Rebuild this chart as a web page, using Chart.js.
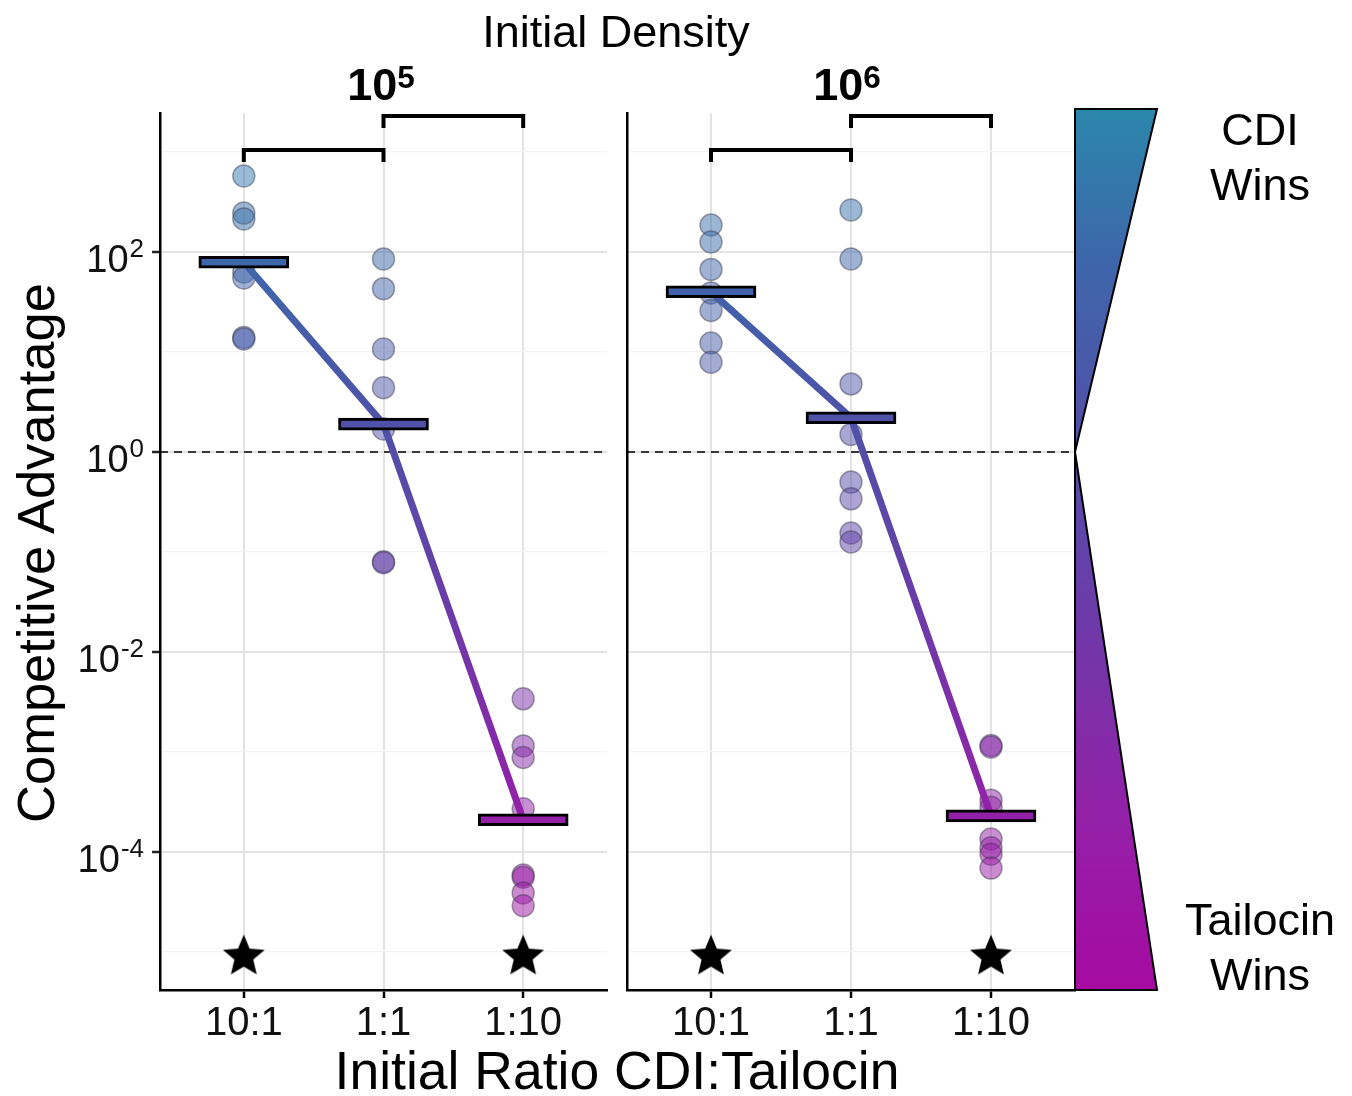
<!DOCTYPE html>
<html>
<head>
<meta charset="utf-8">
<script src="https://cdn.jsdelivr.net/npm/chart.js@4.4.1/dist/chart.umd.min.js"></script>
<style>
  body { margin: 0; background: #fff; width: 1352px; height: 1096px; position: relative; overflow: hidden;
         font-family: "Liberation Sans", Arial, sans-serif; color: #000; }
  canvas { position: absolute; top: 0; }
  .lbl { position: absolute; white-space: nowrap; line-height: 1; text-align: center; }
  .sup { position: relative; font-size: 0.7em; top: -0.38em; }
</style>
</head>
<body>
<canvas id="p5" width="620" height="1096" style="left:0"></canvas>
<canvas id="p6" width="752" height="1096" style="left:600px"></canvas>

<div class="lbl" style="left:416px; width:400px; top:9px; font-size:45px;">Initial Density</div>
<div class="lbl" style="left:281px; width:200px; top:62px; font-size:45px; font-weight:bold;">10<span class="sup">5</span></div>
<div class="lbl" style="left:747px; width:200px; top:62px; font-size:45px; font-weight:bold;">10<span class="sup">6</span></div>
<div class="lbl" style="left:-364px; width:800px; top:527px; height:52px; font-size:52.5px; line-height:52px; transform:rotate(-90deg);">Competitive Advantage</div>
<div class="lbl" style="left:267px; width:700px; top:1044px; font-size:53.5px;">Initial Ratio CDI:Tailocin</div>
<div class="lbl" style="left:1160px; width:200px; top:102px; font-size:45px; line-height:55px;">CDI<br>Wins</div>
<div class="lbl" style="left:1160px; width:200px; top:892px; font-size:45px; line-height:55px;">Tailocin<br>Wins</div>

<script>
// x categories
const ratios = ['10:1', '1:1', '1:10'];

// density 10^5 : competitive advantage per replicate
const d5_r10 = [575, 245, 214, 63, 55, 14, 13.5];
const d5_r1 = [85, 43, 10.7, 4.4, 1.7, 0.08, 0.078];
const d5_r01 = [0.0034, 0.00115, 0.00088, 0.00027, 0.000059, 0.000056, 0.000039, 0.000029];
const d5_means = [79, 1.9, 0.00021];

// density 10^6
const d6_r10 = [186, 126, 67, 39, 26, 12.3, 7.9];
const d6_r1 = [263, 85, 4.8, 1.5, 0.5, 0.34, 0.155, 0.126];
const d6_r01 = [0.00116, 0.00112, 0.00033, 0.00028, 0.000135, 0.00011, 0.000095, 0.000069];
const d6_means = [40, 2.2, 0.00023];

// significance stars (category index) and comparison brackets
const starCats = [1, 3];
const starLevel = 9e-6;
const bracketPairs = [[1, 2], [2, 3]];
const bracketLevels = [1050, 2290];

const yPowers = [-5, -4, -3, -2, -1, 0, 1, 2, 3];
const yLabelPowers = [-4, -2, 0, 2];

// colour ramp along log10(value): blue (CDI wins) -> magenta (tailocin wins)
const colorStops = [[3.4, '#2b86ab'], [1.9, '#3e66aa'], [0.3, '#4f52a8'], [-1.5, '#6a3ca8'], [-3.7, '#9420a8'], [-5.4, '#a60aa0']];

function hexRgb(h) {
    return [parseInt(h.slice(1, 3), 16), parseInt(h.slice(3, 5), 16), parseInt(h.slice(5, 7), 16)];
}

function rampColor(v, alpha) {
    const l = Math.log10(v);
    let c = hexRgb(colorStops[colorStops.length - 1][1]);
    if (l >= colorStops[0][0]) c = hexRgb(colorStops[0][1]);
    for (let i = 0; i < colorStops.length - 1; i++) {
        const [l0, c0] = colorStops[i];
        const [l1, c1] = colorStops[i + 1];
        if (l <= l0 && l >= l1) {
            const t = (l0 - l) / (l0 - l1);
            const a = hexRgb(c0), b = hexRgb(c1);
            c = a.map((x, k) => Math.round(x + (b[k] - x) * t));
        }
    }
    return `rgba(${c[0]},${c[1]},${c[2]},${alpha})`;
}

function verticalRamp(chart, top, bottom) {
    const ys = chart.scales.y;
    const g = chart.ctx.createLinearGradient(0, top, 0, bottom);
    colorStops.forEach(([l, c]) => {
        let p = (ys.getPixelForValue(Math.pow(10, l)) - top) / (bottom - top);
        g.addColorStop(Math.min(1, Math.max(0, p)), c);
    });
    return g;
}

// filled five point star used as point style
function makeStar(R) {
    const c = document.createElement('canvas');
    c.width = c.height = 2 * R + 2;
    const g = c.getContext('2d');
    g.translate(R + 1, R + 1);
    g.beginPath();
    for (let k = 0; k < 10; k++) {
        const r = k % 2 ? R * 0.45 : R;
        const a = -Math.PI / 2 + k * Math.PI / 5;
        g.lineTo(r * Math.cos(a), r * Math.sin(a));
    }
    g.closePath();
    g.fillStyle = '#000';
    g.fill();
    return c;
}
const starImg = makeStar(22);

const isMajor = ctx => ctx.tick && Math.round(Math.log10(ctx.tick.value)) % 2 === 0;

// --- y tick labels with superscript exponents ---
const yLabelPlugin = {
    id: 'yLabels',
    afterDraw(chart) {
        const ys = chart.scales.y, ctx = chart.ctx;
        ctx.save();
        ctx.fillStyle = '#111';
        ctx.textBaseline = 'alphabetic';
        ctx.textAlign = 'left';
        yLabelPowers.forEach(e => {
            const y = ys.getPixelForValue(Math.pow(10, e));
            const ex = String(e);
            ctx.font = '26px "Liberation Sans", Arial';
            const ew = ctx.measureText(ex).width;
            ctx.font = '38px "Liberation Sans", Arial';
            const bw = ctx.measureText('10').width;
            const right = ys.right - 16;
            ctx.fillText('10', right - ew - bw - 1, y + 20);
            ctx.font = '26px "Liberation Sans", Arial';
            ctx.fillText(ex, right - ew, y + 5);
        });
        ctx.restore();
    }
};

// --- gradient triangle legend to the right of the last panel ---
const legendPlugin = {
    id: 'rampLegend',
    afterDraw(chart) {
        const a = chart.chartArea, ys = chart.scales.y, ctx = chart.ctx;
        const x0 = a.right, x1 = a.right + 82;
        const top = a.top - 4, bottom = a.bottom;
        const apex = ys.getPixelForValue(1);
        ctx.save();
        ctx.beginPath();
        ctx.moveTo(x0, top);
        ctx.lineTo(x1, top);
        ctx.lineTo(x0, apex);
        ctx.lineTo(x1, bottom);
        ctx.lineTo(x0, bottom);
        ctx.closePath();
        ctx.fillStyle = verticalRamp(chart, top, bottom);
        ctx.fill();
        ctx.lineWidth = 2;
        ctx.strokeStyle = '#000';
        ctx.lineJoin = 'miter';
        ctx.stroke();
        ctx.restore();
    }
};

function makePanel(id, groups, means, pad, yWidth, showYTicks, plugins) {
    const pts = [];
    groups.forEach((vals, i) => vals.forEach(v => pts.push({ x: i + 1, y: v })));

    const datasets = [
        {
            type: 'line',
            data: [{ x: 0.4, y: 1 }, { x: 3.6, y: 1 }],
            borderColor: '#000', borderWidth: 1.5, borderDash: [8, 6],
            pointRadius: 0, order: 5
        },
        {
            type: 'scatter',
            data: pts,
            pointRadius: 11,
            pointBackgroundColor: ctx => rampColor(ctx.raw.y, 0.5),
            pointBorderColor: 'rgba(60,60,80,0.45)',
            pointBorderWidth: 1.5,
            order: 4
        },
        {
            type: 'line',
            data: means.map((m, i) => ({ x: i + 1, y: m })),
            borderColor: ctx => {
                const a = ctx.chart.chartArea;
                if (!a) return '#4f52a8';
                return verticalRamp(ctx.chart, a.top, a.bottom);
            },
            borderWidth: 7, pointRadius: 0, order: 3
        },
        {
            type: 'bar',
            data: means.map((m, i) => ({ x: i + 1, y: [m / Math.pow(10, 0.06), m * Math.pow(10, 0.06)] })),
            backgroundColor: means.map(m => rampColor(m, 1)),
            borderColor: '#000', borderWidth: 3, borderSkipped: false,
            barThickness: 90, order: 2
        },
        {
            type: 'scatter',
            data: starCats.map(c => ({ x: c, y: starLevel })),
            pointStyle: starImg, pointRadius: 22, order: 0
        }
    ];
    bracketPairs.forEach(([p, q], k) => {
        const lvl = bracketLevels[k];
        const foot = lvl / Math.pow(10, 0.12);
        datasets.push({
            type: 'line',
            data: [{ x: p, y: foot }, { x: p, y: lvl }, { x: q, y: lvl }, { x: q, y: foot }],
            borderColor: '#000', borderWidth: 4, pointRadius: 0,
            borderJoinStyle: 'miter', borderCapStyle: 'butt', clip: false, order: 0
        });
    });

    return new Chart(document.getElementById(id), {
        type: 'scatter',
        data: { datasets },
        options: {
            responsive: false,
            animation: false,
            events: [],
            layout: { padding: pad, autoPadding: false },
            plugins: { legend: { display: false }, tooltip: { enabled: false } },
            scales: {
                x: {
                    type: 'linear', min: 0.4, max: 3.6, offset: false,
                    afterBuildTicks: s => { s.ticks = ratios.map((r, i) => ({ value: i + 1 })); },
                    afterFit: s => { s.height = 106; s.paddingLeft = 0; s.paddingRight = 0; },
                    ticks: {
                        callback: v => ratios[Math.round(v) - 1],
                        font: { size: 40, family: '"Liberation Sans", Arial' },
                        color: '#111', padding: 2, maxRotation: 0, autoSkip: false
                    },
                    grid: { offset: false, color: '#e3e3e3', lineWidth: 2, tickLength: 8, tickColor: '#000', tickWidth: 2.5 },
                    border: { display: true, color: '#000', width: 2.5 }
                },
                y: {
                    type: 'logarithmic',
                    min: Math.pow(10, -5.38), max: Math.pow(10, 3.39),
                    afterBuildTicks: s => { s.ticks = yPowers.map(e => ({ value: Math.pow(10, e) })); },
                    afterFit: s => { s.width = yWidth; s.paddingTop = 0; s.paddingBottom = 0; },
                    ticks: { display: false },
                    grid: {
                        offset: false,
                        color: ctx => isMajor(ctx) ? '#e3e3e3' : '#f3f3f3',
                        lineWidth: ctx => isMajor(ctx) ? 2 : 1.2,
                        drawTicks: showYTicks, tickLength: 8, tickWidth: 2.5,
                        tickColor: ctx => isMajor(ctx) ? '#222' : 'rgba(0,0,0,0)'
                    },
                    border: { display: true, color: '#000', width: 2.5 }
                }
            }
        },
        plugins: plugins
    });
}

makePanel('p5', [d5_r10, d5_r1, d5_r01], d5_means,
    { top: 113, right: 13, bottom: 0, left: 0 }, 160, true, [yLabelPlugin]);
makePanel('p6', [d6_r10, d6_r1, d6_r01], d6_means,
    { top: 113, right: 277, bottom: 0, left: 27 }, 0, false, [legendPlugin]);
</script>
</body>
</html>
